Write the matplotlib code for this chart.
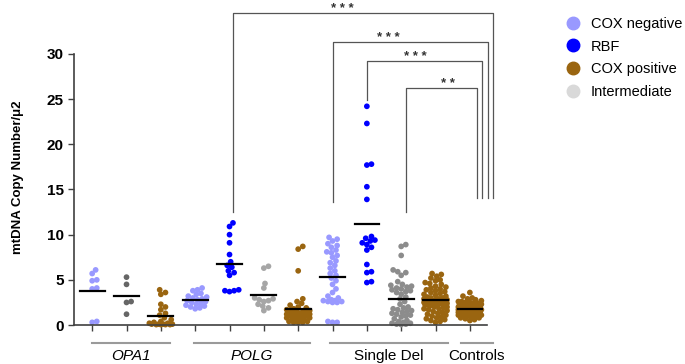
import numpy as np
import matplotlib
matplotlib.use("Agg")
import matplotlib.pyplot as plt
from matplotlib.lines import Line2D

plt.rcParams['font.family'] = ['Liberation Sans', 'DejaVu Sans']

# values (mtDNA copy number / um2)
opa1_neg = [6.1, 5.7, 5.0, 4.9, 4.1, 4.0, 0.4, 0.3]
opa1_int = [5.3, 4.5, 2.6, 2.5, 1.2]
opa1_pos = [3.9, 3.6, 3.4, 2.3, 2.0, 1.7, 1.3, 1.1, 0.8, 0.6, 0.4, 0.3, 0.2, 0.2,
            0.1, 0.1, 0.1, 0.1, 0.05, 0.05, 0.05, 0.05]

polg_neg = [4.1, 3.9, 3.8, 3.5, 3.4, 3.2, 3.1, 3.0, 2.9, 2.8, 2.7, 2.6, 2.5, 2.4,
            2.3, 2.2, 2.1, 2.0, 1.9, 1.8]
polg_rbf = [11.3, 10.9, 10.0, 9.1, 7.8, 7.0, 6.6, 6.4, 6.0, 5.8, 5.5, 3.9, 3.8, 3.8, 3.7]
polg_int = [6.5, 6.3, 4.6, 4.1, 3.0, 2.9, 2.8, 2.7, 2.6, 2.3, 2.1, 1.9, 1.6]
polg_pos = [8.7, 8.4, 6.0, 2.9, 2.6, 2.4, 2.2, 2.0, 1.9, 1.8, 1.7, 1.6, 1.5, 1.5,
            1.4, 1.4, 1.3, 1.3, 1.2, 1.2, 1.1, 1.1, 1.0, 1.0, 0.9, 0.9, 0.8, 0.8,
            0.7, 0.7, 0.6, 0.5, 0.4, 0.4, 0.3, 0.3, 0.3]

sd_neg = [9.7, 9.5, 9.3, 9.0, 8.8, 8.6, 8.3, 8.1, 8.0, 7.7, 7.5, 7.1, 6.9, 6.6,
          6.3, 6.0, 5.7, 5.5, 5.2, 4.9, 4.5, 4.0, 3.6, 3.2, 3.0, 2.8, 2.7, 2.7,
          2.6, 2.6, 2.5, 2.5, 0.4, 0.3, 0.3]
sd_rbf = [24.2, 22.3, 17.8, 17.7, 15.3, 13.9, 9.8, 9.6, 9.4, 9.3, 9.1, 8.9, 8.6,
          8.3, 6.7, 5.9, 5.8, 4.8, 4.7]
sd_int = [8.9, 8.7, 7.7, 6.1, 5.9, 5.8, 5.5, 4.8, 4.5, 4.4, 4.3, 4.2, 4.1, 4.0,
          3.9, 3.8, 3.7, 3.6, 3.4, 3.1, 2.9, 2.6, 2.3, 2.0, 1.9, 1.8, 1.7, 1.6,
          1.5, 1.4, 1.3, 1.2, 1.1, 1.0, 0.9, 0.7, 0.5, 0.4, 0.3, 0.2, 0.2, 0.1,
          0.1, 0.05]
sd_pos = [5.7, 5.6, 5.4, 5.2, 5.0, 4.9, 4.7, 4.6, 4.5, 4.3, 4.2, 4.1, 4.0, 3.9,
          3.8, 3.7, 3.6, 3.5, 3.4, 3.3, 3.2, 3.1, 3.0, 3.0, 2.9, 2.9, 2.8, 2.8,
          2.7, 2.7, 2.6, 2.6, 2.5, 2.5, 2.4, 2.4, 2.3, 2.3, 2.2, 2.2, 2.1, 2.0,
          2.0, 1.9, 1.8, 1.8, 1.7, 1.6, 1.5, 1.4, 1.3, 1.2, 1.1, 1.0, 0.9, 0.8,
          0.7, 0.6, 0.5, 0.4, 0.3]
controls = [3.6, 3.2, 3.0, 2.9, 2.8, 2.7, 2.6, 2.6, 2.5, 2.5, 2.4, 2.4, 2.3, 2.3,
            2.2, 2.2, 2.1, 2.1, 2.0, 2.0, 2.0, 1.9, 1.9, 1.9, 1.8, 1.8, 1.8, 1.7,
            1.7, 1.7, 1.6, 1.6, 1.6, 1.5, 1.5, 1.5, 1.4, 1.4, 1.4, 1.3, 1.3, 1.3,
            1.2, 1.2, 1.1, 1.1, 1.0, 1.0, 0.9, 0.9, 0.8, 0.8, 0.7, 0.6, 0.5]

c_neg = "#9999ff"
c_rbf = "#0000ff"
c_pos = "#9a6510"
c_int = "#d9d9d9"

columns = [
    (opa1_neg, c_neg), (opa1_int, "#666666"), (opa1_pos, c_pos),
    (polg_neg, c_neg), (polg_rbf, c_rbf), (polg_int, "#a6a6a6"), (polg_pos, c_pos),
    (sd_neg, c_neg), (sd_rbf, c_rbf), (sd_int, "#8c8c8c"), (sd_pos, c_pos),
    (controls, c_pos),
]

group_names = ["OPA1", "POLG", "Single Del", "Controls"]
group_spans = [(0.0, 2.27), (2.97, 6.33), (6.94, 10.35), (10.73, 11.66)]
group_italic = [True, True, False, False]

# (left x, right x, bracket y, left foot y, star x, label)
brackets = [
    (4.11, 11.66, 34.5, 12.5, 7.29, "* * *"),
    (7.0, 11.52, 31.3, 13.6, 8.63, "* * *"),
    (8.0, 11.34, 29.2, 24.9, 9.42, "* * *"),
    (9.15, 11.2, 26.2, 12.5, 10.35, "* *"),
]
right_foot = 14.1


def swarm(ypx, d, max_half):
    # simple beeswarm in pixel space
    xs = np.zeros(len(ypx))
    placed = []
    step = d * 0.25
    cands = [0.0]
    k = 1
    while k * step <= max_half:
        cands += [k * step, -k * step]
        k += 1
    for i in np.argsort(ypx):
        best, best_dist = 0.0, -1
        for c in cands:
            md = min([np.hypot(c - px, ypx[i] - py) for px, py in placed] + [1e9])
            if md >= d:
                best = c
                break
            if md > best_dist:
                best, best_dist = c, md
        xs[i] = best
        placed.append((best, ypx[i]))
    return xs


fig = plt.figure(figsize=(6.85, 3.64), dpi=100)
ax = fig.add_axes([0.108, 0.107, 0.603, 0.745])
ax.set_xlim(-0.53, 11.5)
ax.set_ylim(0, 30)

to_px = ax.transData
for i, (vals, col) in enumerate(columns):
    vals = np.array(vals)
    pts = to_px.transform(np.column_stack([np.full(len(vals), i), vals]))
    off = swarm(pts[:, 1], 4.6, 12.0)
    pts[:, 0] += off
    data = to_px.inverted().transform(pts)
    ax.scatter(data[:, 0], vals, s=17, color=col, edgecolors="none", zorder=2, clip_on=False)
    m = vals.mean()
    ax.plot([i - 0.36, i + 0.36], [m, m], color="black", lw=1.6, zorder=3)

for s in ["top", "right"]:
    ax.spines[s].set_visible(False)
for s in ["left", "bottom"]:
    ax.spines[s].set_color("#404040")
    ax.spines[s].set_linewidth(1.2)

ax.set_yticks(range(0, 31, 5))
ax.set_xticks(range(len(columns)))
ax.set_xticklabels([])
ax.tick_params(axis="both", colors="#404040", length=4, width=1)
ax.tick_params(axis="y", labelsize=11, labelcolor="black")
for t in ax.get_yticklabels():
    t.set_fontweight("bold")

fig.text(0.026, 0.514, "mtDNA Copy Number/\u03bc2", rotation=90, fontsize=9.5,
         fontweight="bold", ha="center", va="center")

for name, (a, b), it in zip(group_names, group_spans, group_italic):
    ax.plot([a, b], [-1.94, -1.94], color="#9a9a9a", lw=1.5, clip_on=False)
    ax.text((a + b) / 2, -3.4, name, fontsize=11, style="italic" if it else "normal",
            ha="center", va="center")

for x0, x1, yb, yl, xs, lab in brackets:
    ax.plot([x0, x0, x1, x1], [yl, yb, yb, right_foot], color="#555555", lw=0.9,
            clip_on=False)
    ax.text(xs, yb + 0.1, lab, fontsize=9.5, fontweight="bold", color="#333333",
            ha="center", va="baseline")

legend_names = ["COX negative", "RBF", "COX positive", "Intermediate"]
legend_cols = [c_neg, c_rbf, c_pos, c_int]
handles = [Line2D([], [], marker="o", ls="none", ms=9, color=c) for c in legend_cols]
fig.legend(handles, legend_names, loc="upper left", bbox_to_anchor=(0.805, 0.99),
           frameon=False, fontsize=10.5, labelspacing=0.6, handletextpad=0.6,
           handlelength=1.2)

fig.savefig("out.png", dpi=100)
